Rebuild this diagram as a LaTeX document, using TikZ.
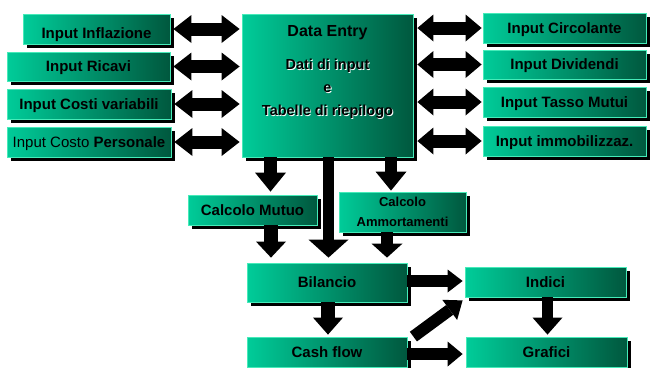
\documentclass[tikz,border=0pt]{standalone}
\usepackage{fontspec}
\setmainfont{Liberation Sans}
\usetikzlibrary{arrows.meta,shadows,calc}

\definecolor{boxL}{RGB}{0,204,153}
\definecolor{boxD}{RGB}{0,88,62}
\definecolor{boxEdge}{RGB}{70,235,185}

% black text with a thin white shadow below right
\newcommand\liftshade[1]{\makebox[0pt][l]{\kern0.9pt\raisebox{-0.9pt}{\color{white}#1}}#1}

\tikzset{
  panel/.style={rectangle, inner sep=0pt, left color=boxL, right color=boxD,
    draw=boxEdge, line width=0.8pt,
    drop shadow={shadow xshift=3.5pt, shadow yshift=-3.5pt, opacity=1, fill=black},
    font=\fontsize{15}{18}\selectfont\bfseries, align=center,
    text height=10.7pt, text depth=0pt},
  panelsize/.style n args={2}{minimum width=#1, minimum height=#2},
  harrow/.style n args={3}{draw=black, line width=#1,
    -{Triangle[length=#2, width=#3, line width=0pt]}},
  dblarrow/.style n args={3}{draw=black, line width=#1,
    {Triangle[length=#2, width=#3, line width=0pt]}-{Triangle[length=#2, width=#3, line width=0pt]}},
}

\begin{document}
\begin{tikzpicture}[x=1pt, y=-1pt]
\useasboundingbox (0,0) rectangle (650,367);

% central data entry block
\node[panel, panelsize={171pt}{143pt}] (de) at (327.5,85.5) {};
\node[font=\fontsize{16}{18}\selectfont\bfseries, text height=11.4pt, text depth=0pt] (detitle) at (327.5,30.5) {Data Entry};
\node[font=\fontsize{14.5}{23.2}\selectfont\bfseries, align=center] (desub) at (327.5,89.5)
  {\liftshade{Dati di input}\\\liftshade{e}\\\liftshade{Tabelle di riepilogo}};

% input blocks on the left
\node[panel, panelsize={147pt}{30pt}, text height=19.7pt] (infl) at (96.5,29) {Input Inflazione};
\node[panel, panelsize={163pt}{29pt}] (ricavi) at (88.5,66.5) {Input Ricavi};
\node[panel, panelsize={164pt}{30pt}] (costi) at (89,104) {Input Costi variabili};
\node[panel, panelsize={164pt}{30pt}] (pers) at (89,142) {\textmd{Input Costo} Personale};

% input blocks on the right
\node[panel, panelsize={163pt}{30pt}] (circ) at (564.5,28) {Input Circolante};
\node[panel, panelsize={163pt}{29pt}] (divid) at (564.5,64.5) {Input Dividendi};
\node[panel, panelsize={163pt}{30pt}] (tasso) at (564.5,102) {Input Tasso Mutui};
\node[panel, panelsize={163pt}{30pt}] (immob) at (564.5,141) {Input immobilizzaz.};

% calculation and output blocks
\node[panel, panelsize={129pt}{30pt}] (mutuo) at (252.5,210) {Calcolo Mutuo};
\node[panel, panelsize={127pt}{40pt}, font=\fontsize{13}{20}\selectfont\bfseries,
  text height=, text depth=] (amm) at (402.5,212) {Calcolo\\Ammortamenti};
\node[panel, panelsize={160pt}{39pt}] (bil) at (327,282.5) {Bilancio};
\node[panel, panelsize={161pt}{30pt}] (indici) at (545.5,282) {Indici};
\node[panel, panelsize={160pt}{30pt}] (cash) at (327,352) {Cash flow};
\node[panel, panelsize={161pt}{30pt}] (graf) at (546.5,352) {Grafici};

% two-way links between the inputs and the data entry
\foreach \b in {infl,ricavi,costi,pers}
  \draw[dblarrow={13pt}{18pt}{28pt}] ([xshift=3pt]\b.east) -- ($(\b.east -| de.west)+(-2,0)$);
\foreach \b in {circ,divid,tasso,immob}
  \draw[dblarrow={13pt}{16pt}{27pt}] ($(\b.west -| de.east)+(4,0)$) -- ([xshift=-1pt]\b.west);

% flow from the data entry downwards
\draw[harrow={13pt}{19pt}{31pt}] ([xshift=18pt]mutuo.north |- de.south) -- ([xshift=18pt,yshift=3pt]mutuo.north);
\draw[harrow={11.5pt}{18pt}{40pt}] ([xshift=1.5pt]bil.north |- de.south) -- ([xshift=1.5pt,yshift=5pt]bil.north);
\draw[harrow={12pt}{19pt}{31pt}] ([xshift=-11.5pt]amm.north |- de.south) -- ([xshift=-11.5pt,yshift=1pt]amm.north);

% calculations into the balance sheet
\draw[harrow={14pt}{16pt}{30pt}] ([xshift=18.5pt]mutuo.south) -- ([xshift=-56pt,yshift=5pt]bil.north);
\draw[harrow={12pt}{14pt}{31pt}] ([xshift=-15.5pt]amm.south) -- ([xshift=60pt,yshift=5pt]bil.north);

% outputs
\draw[harrow={14pt}{17pt}{30pt}] ([xshift=1pt]bil.south) -- ([xshift=1pt,yshift=2pt]cash.north);
\draw[harrow={12pt}{15pt}{23pt}] ([yshift=1.5pt]bil.east) -- ([xshift=-2pt,yshift=1pt]indici.west);
\draw[harrow={12pt}{15pt}{25pt}] ([yshift=-2pt]cash.east) -- ([xshift=-3pt,yshift=-2pt]graf.west);
\draw[harrow={12pt}{16pt}{25pt}] ([xshift=6pt]cash.north east) -- ([xshift=-2pt,yshift=-3pt]indici.south west);
\draw[harrow={11pt}{17pt}{30pt}] ([xshift=2pt]indici.south) -- ([xshift=1pt,yshift=2pt]graf.north);
\end{tikzpicture}
\end{document}
